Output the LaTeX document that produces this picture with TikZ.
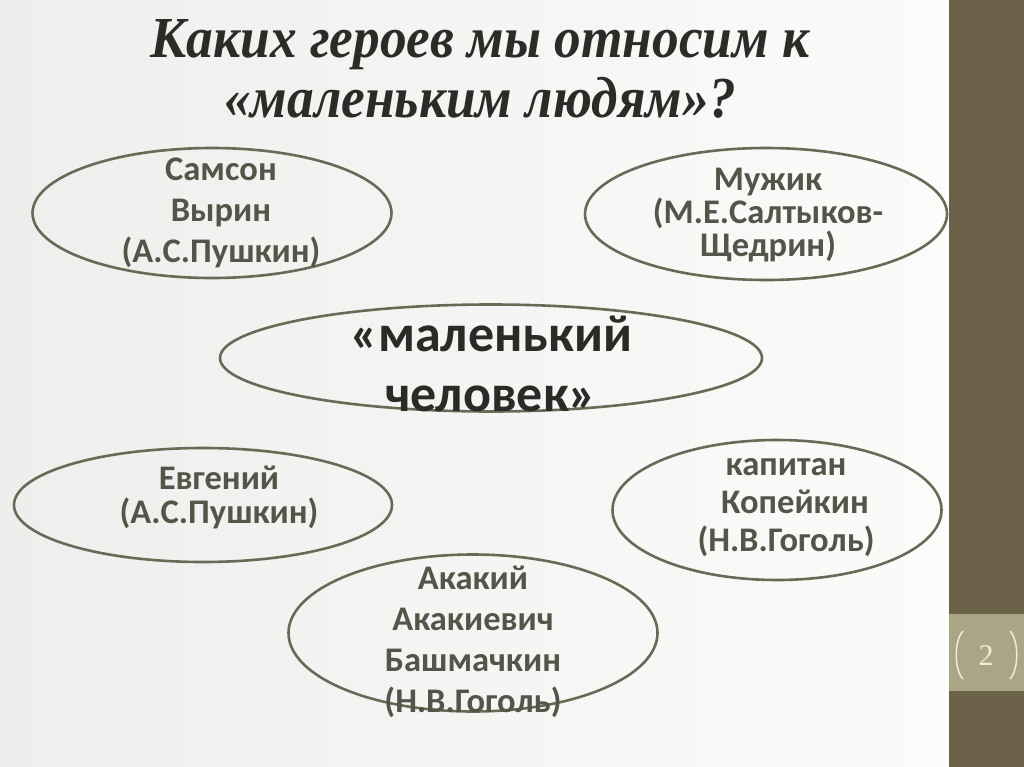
\documentclass[tikz,border=0pt]{standalone}
\usepackage{fontspec}
\setmainfont{Carlito}
\newfontfamily\titlefont{Liberation Serif}
\usetikzlibrary{shapes.geometric}
\definecolor{bgl}{HTML}{EEEEEC}
\definecolor{bgr}{HTML}{FBFBFA}
\definecolor{barc}{HTML}{6B6249}
\definecolor{boxc}{HTML}{A9A585}
\definecolor{numc}{HTML}{F2ECD2}
\definecolor{linec}{HTML}{6A6956}
\definecolor{txtc}{HTML}{545448}
\definecolor{ctxt}{HTML}{2A2A26}
\definecolor{ttl}{HTML}{2B2B27}
\tikzset{
  oval/.style={ellipse, draw=linec, line width=2.6pt, inner sep=0pt},
  lbl/.style={align=center, text=txtc, font=\bfseries\fontsize{34.5}{41}\selectfont},
  ttlstyle/.style={align=center, font=\titlefont\bfseries\itshape\fontsize{58}{60}\selectfont},
}
\begin{document}
\begin{tikzpicture}[x=1pt,y=-1pt]
\useasboundingbox (0,0) rectangle (1024,767);
\shade[left color=bgl, right color=bgr] (0,0) rectangle (945,767);
% right bar
\fill[white] (945,0) rectangle (949,767);
\fill[barc] (949,0) rectangle (1024,767);
\fill[boxc] (949,614) rectangle (1024,691);
\node[text=numc, font=\titlefont\fontsize{30}{30}\selectfont] (pnum) at (986,656) {2};
\draw[numc, line width=1.5pt] (963,631) .. controls (954,640) and (954,670) .. (963,679);
\draw[numc, line width=1.5pt] (1010,631) .. controls (1019,640) and (1019,670) .. (1010,679);
% title
\node[ttlstyle, text=ttl, xscale=0.92, transform shape] (title) at (480,69) {Каких героев мы относим к\\«маленьким людям»?};
% ellipses
\node[oval, minimum width=359pt, minimum height=130pt] (e1) at (212,213) {};
\node[oval, minimum width=362pt, minimum height=132pt] (e2) at (766,214) {};
\node[oval, minimum width=542pt, minimum height=107pt] (e3) at (491,358) {};
\node[oval, minimum width=378pt, minimum height=114pt] (e4) at (203,505) {};
\node[oval, minimum width=329pt, minimum height=140pt] (e5) at (777,510) {};
\node[oval, minimum width=369pt, minimum height=157pt] (e6) at (473,633) {};
% texts
\node[lbl] (t1) at (221,213) {Самсон\\Вырин\\(А.С.Пушкин)};
\node[lbl, font=\bfseries\fontsize{34.5}{33}\selectfont] (t2) at (768,215) {Мужик\\(М.Е.Салтыков-\\Щедрин)};
\node[lbl, text=ctxt, font=\bfseries\fontsize{52}{60}\selectfont] (t3) at (491,364) {«маленький\\человек»};
\node[lbl, font=\bfseries\fontsize{34.5}{34}\selectfont] (t4) at (219,497) {Евгений\\(А.С.Пушкин)};
\node[lbl, font=\bfseries\fontsize{34.5}{38}\selectfont] (t5) at (786,508) {капитан\\\hspace*{18pt}Копейкин\\(Н.В.Гоголь)};
\node[lbl] (t6) at (473,642) {Акакий\\Акакиевич\\Башмачкин\\(Н.В.Гоголь)};
\end{tikzpicture}
\end{document}
